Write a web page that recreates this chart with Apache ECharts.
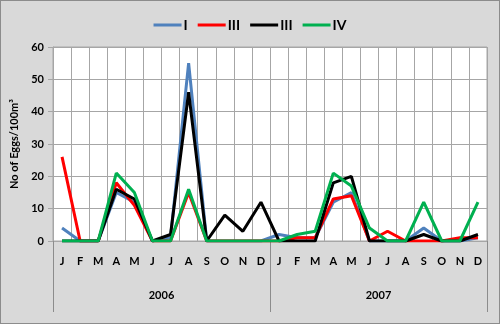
<!DOCTYPE html>
<html>
<head>
<meta charset="utf-8">
<script src="https://cdn.jsdelivr.net/npm/echarts@6/dist/echarts.min.js"></script>
<style>
  body{margin:0;padding:0;}
  #wrap{width:500px;height:324px;box-sizing:border-box;border:1px solid #8c8c8c;background:#d9d9d9;}
  #chart{width:498px;height:322px;}
</style>
</head>
<body>
<div id="wrap"><div id="chart"></div></div>
<script>
  // months for 2006 and 2007
  let months = ['J','F','M','A','M','J','J','A','S','O','N','D',
                'J','F','M','A','M','J','J','A','S','O','N','D']
  let years = ['2006','2007']
  let seriesNames = ['I','III','III ','IV']
  let s1 = [4,0,0,15,12,0,1,55,0,0,0,0, 2,1,1,12,15,0,0,0,4,0,0,1]
  let s2 = [26,0,0,18,11,0,0,15,0,0,0,0, 0,1,1,13,14,0,3,0,0,0,1,1]
  let s3 = [0,0,0,16,13,0,2,46,0,8,3,12, 0,0,0,18,20,0,0,0,2,0,0,2]
  let s4 = [0,0,0,21,15,0,0,16,0,0,0,0, 0,2,3,21,17,4,0,0,12,0,0,12]
  let colors = ['#4f81bd','#ff0000','#000000','#00b050']

  let font = 'Lato, "Open Sans", sans-serif'
  let chart = echarts.init(document.getElementById('chart'))
  let allData = [s1,s2,s3,s4]
  let option = {
    backgroundColor: '#d9d9d9',
    animation: false,
    color: colors,
    legend: {
      top: 12,
      left: 'center',
      icon: 'rect',
      itemWidth: 28,
      itemHeight: 3,
      itemGap: 10,
      formatter: function(name){ return name.trim() },
      textStyle: {fontFamily: font, fontWeight: 'bold', fontSize: 14, color: '#000', padding: [0,0,0,-3]}
    },
    grid: {
      left: 51,
      right: 12,
      top: 46,
      bottom: 82,
      show: true,
      backgroundColor: '#ffffff',
      borderColor: '#a6a6a6',
      borderWidth: 1
    },
    xAxis: [{
      type: 'category',
      data: months,
      boundaryGap: true,
      axisLine: {show: true, lineStyle: {color: '#a6a6a6'}},
      axisTick: {show: false},
      axisLabel: {interval: 0, margin: 15, fontFamily: font, fontWeight: 'bold', fontSize: 11, color: '#000'},
      splitLine: {show: true, interval: 0, lineStyle: {color: '#a6a6a6'}}
    }, {
      type: 'category',
      data: years,
      position: 'bottom',
      boundaryGap: true,
      axisLine: {show: false},
      axisTick: {show: true, length: 71, lineStyle: {color: '#8c8c8c'}},
      axisLabel: {interval: 0, margin: 49, fontFamily: font, fontWeight: 'bold', fontSize: 11, color: '#000'},
      splitLine: {show: false}
    }],
    yAxis: {
      type: 'value',
      min: 0,
      max: 60,
      interval: 10,
      name: 'No of Eggs/100m³',
      nameLocation: 'middle',
      nameGap: 33,
      nameTextStyle: {fontFamily: font, fontWeight: 'bold', fontSize: 11, color: '#000'},
      axisLine: {show: true, lineStyle: {color: '#a6a6a6'}},
      axisTick: {show: true, length: 5, lineStyle: {color: '#a6a6a6'}},
      axisLabel: {margin: 9, fontFamily: font, fontWeight: 'bold', fontSize: 11, color: '#000'},
      splitLine: {show: true, lineStyle: {color: '#a6a6a6'}}
    },
    series: seriesNames.map(function(n, i){
      return {
        name: n,
        type: 'line',
        xAxisIndex: 0,
        symbol: 'none',
        lineStyle: {width: 3, color: colors[i]},
        itemStyle: {color: colors[i]},
        data: allData[i]
      }
    })
  }
  chart.setOption(option)
</script>
</body>
</html>
